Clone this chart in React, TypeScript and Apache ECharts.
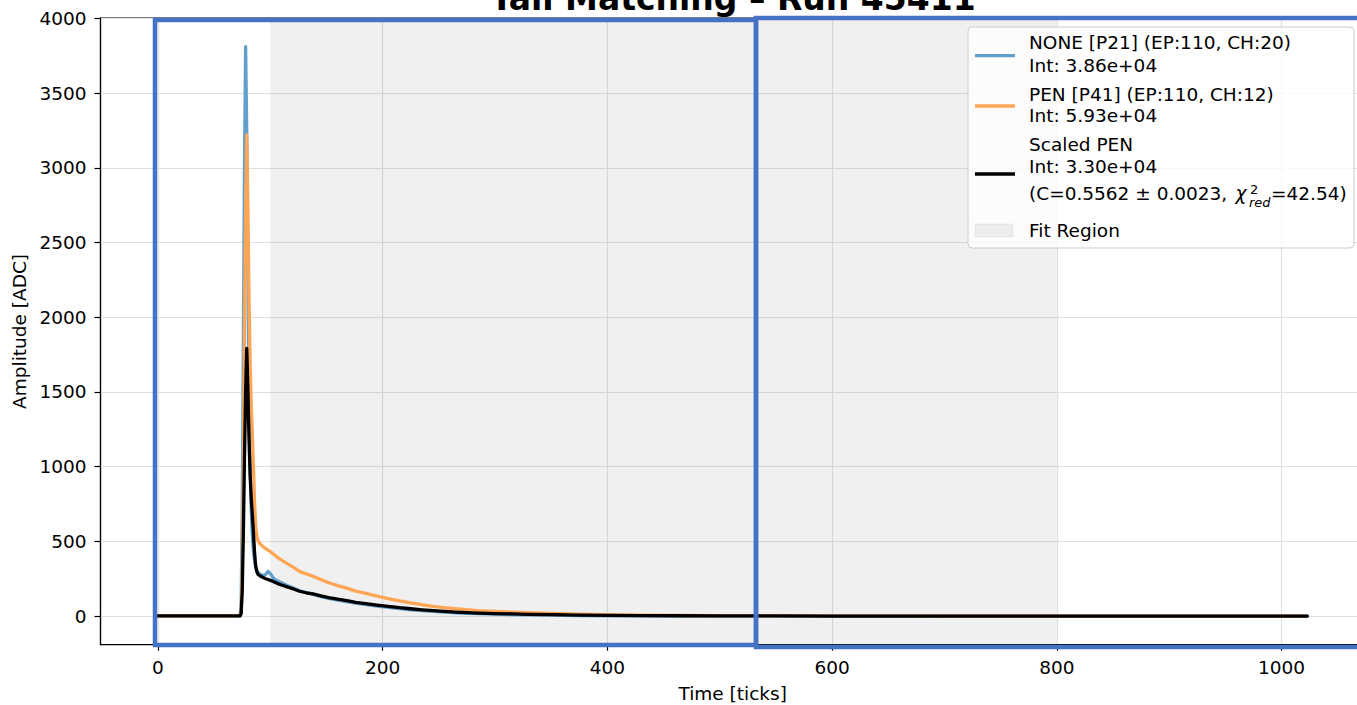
import React, { useEffect, useRef } from "react";
import * as echarts from "echarts";

// ---- data ----
const ticks = [0, 70, 73, 74, 75, 76, 77, 78, 79, 80, 81, 82, 83, 84, 85, 86, 87, 88, 89, 91, 94, 96, 98, 100, 103, 106, 110, 115, 120, 126, 132, 138, 145, 152, 160, 168, 176, 185, 195, 205, 215, 225, 235, 245, 255, 265, 275, 285, 300, 315, 330, 350, 375, 400, 430, 460, 500, 550, 600, 700, 800, 900, 1023];
const noneValues = [2, 2, 3, 60, 700, 1800, 3000, 3810, 3250, 2300, 1550, 1050, 720, 540, 430, 370, 330, 305, 292, 280, 272, 280, 300, 285, 252, 238, 224, 205, 190, 170, 158, 146, 131, 119, 107, 97, 87, 77, 67, 59, 51, 43, 37, 32, 27, 23, 20, 17, 14, 11, 9, 7, 5, 3, 2, 2, 1, 1, 1, 1, 1, 1, 1];
const penValues = [3, 3, 4, 30, 300, 1000, 1900, 2700, 3220, 2750, 2150, 1700, 1420, 1220, 1000, 760, 600, 535, 505, 483, 462, 452, 442, 432, 414, 396, 375, 352, 330, 300, 283, 268, 245, 224, 205, 188, 168, 153, 135, 118, 103, 90, 77, 66, 58, 50, 44, 38, 33, 28, 24, 19, 14, 11, 8, 6, 4, 3, 2, 1, 1, 1, 1];
const scaledValues = [2, 2, 2, 17, 167, 556, 1057, 1502, 1791, 1530, 1196, 946, 790, 679, 556, 423, 334, 298, 281, 269, 257, 251, 246, 240, 230, 220, 209, 196, 184, 167, 157, 149, 136, 125, 114, 105, 93, 85, 75, 66, 57, 50, 43, 37, 32, 28, 24, 21, 18, 16, 13, 11, 8, 6, 4, 3, 2, 2, 1, 1, 1, 1, 1];

const xTickValues = [0, 200, 400, 600, 800, 1000];
const yTickValues = [0, 500, 1000, 1500, 2000, 2500, 3000, 3500, 4000];
const fitRegion = [100, 800];
const xRange = [-51.15, 1074.15];
const yRange = [-190.5, 4000.5];

const seriesNames = ["NONE [P21] (EP:110, CH:20)", "PEN [P41] (EP:110, CH:12)", "Scaled PEN"];
const intLabels = ["Int: 3.86e+04", "Int: 5.93e+04", "Int: 3.30e+04"];
const fitText = "(C=0.5562 ± 0.0023, ";
const chiValue = "=42.54)";
const titleText = "Tail Matching – Run 45411";

const BLUE = "#62a0cb";
const ORANGE = "#ffa556";
const BLACK = "#000000";
const FONT = "DejaVu Sans";
const FS = 18.5;

function pairs(xs: number[], ys: number[]) {
  return xs.map((x, i) => [x, ys[i]]);
}

export default function App() {
  const ref = useRef<HTMLDivElement>(null);
  useEffect(() => {
    if (!ref.current) return;
    const chart = echarts.init(ref.current, null, { renderer: "svg" });
    const txt = (text: string, x: number, y: number, extra: any = {}) => ({
      type: "text",
      x,
      y,
      z: 101,
      style: {
        text,
        fontFamily: FONT,
        fontSize: FS,
        fill: "#000",
        align: "left",
        verticalAlign: "middle",
        ...extra,
      },
    });
    const option: any = {
      animation: false,
      textStyle: { fontFamily: FONT },
      grid: {
        left: 100.5,
        top: 18.2,
        width: 1264.3,
        height: 626.5,
        containLabel: false,
        outerBoundsMode: "none",
        show: true,
        borderColor: "#000",
        borderWidth: 1.2,
        backgroundColor: "transparent",
      },
      xAxis: {
        type: "value",
        min: xRange[0],
        max: xRange[1],
        name: "Time [ticks]",
        nameLocation: "middle",
        nameGap: 39,
        nameTextStyle: { fontFamily: FONT, fontSize: FS, color: "#000" },
        axisLine: { show: true, onZero: false, lineStyle: { color: "#000", width: 1.2 } },
        axisTick: { show: true, length: 6, inside: false, customValues: xTickValues, lineStyle: { color: "#000", width: 1.2 } },
        axisLabel: {
          show: true,
          customValues: xTickValues,
          margin: 13,
          fontFamily: FONT,
          fontSize: FS,
          color: "#000",
          formatter: (v: number) => String(v),
        },
        splitLine: { show: true, lineStyle: { color: "#e0e0e0", width: 1.2 } },
      },
      yAxis: {
        type: "value",
        min: yRange[0],
        max: yRange[1],
        name: "Amplitude [ADC]",
        nameLocation: "middle",
        nameGap: 70,
        nameTextStyle: { fontFamily: FONT, fontSize: FS, color: "#000" },
        axisLine: { show: true, onZero: false, lineStyle: { color: "#000", width: 1.2 } },
        axisTick: { show: true, length: 6, inside: false, customValues: yTickValues, lineStyle: { color: "#000", width: 1.2 } },
        axisLabel: {
          show: true,
          customValues: yTickValues,
          margin: 14,
          fontFamily: FONT,
          fontSize: FS,
          color: "#000",
          formatter: (v: number) => String(v),
        },
        splitLine: { show: true, lineStyle: { color: "#e0e0e0", width: 1.2 } },
      },
      series: [
        {
          name: "Fit Region",
          type: "line",
          data: [],
          z: 1,
          silent: true,
          markArea: {
            silent: true,
            itemStyle: { color: "rgba(128,128,128,0.12)" },
            data: [[{ xAxis: fitRegion[0] }, { xAxis: fitRegion[1] }]],
          },
        },
        {
          name: seriesNames[0],
          type: "line",
          z: 2,
          showSymbol: false,
          symbol: "none",
          data: pairs(ticks, noneValues),
          lineStyle: { color: BLUE, width: 3.3, join: "round", cap: "round" },
        },
        {
          name: seriesNames[1],
          type: "line",
          z: 3,
          showSymbol: false,
          symbol: "none",
          data: pairs(ticks, penValues),
          lineStyle: { color: ORANGE, width: 3.3, join: "round", cap: "round" },
        },
        {
          name: seriesNames[2],
          type: "line",
          z: 4,
          showSymbol: false,
          symbol: "none",
          data: pairs(ticks, scaledValues),
          lineStyle: { color: BLACK, width: 3.3, join: "round", cap: "round" },
        },
      ],
      graphic: [
        {
          type: "text",
          x: 733,
          y: -1.5,
          z: 50,
          style: {
            text: titleText,
            fontFamily: FONT,
            fontSize: 33,
            fontWeight: "bold",
            fill: "#000",
            align: "center",
            verticalAlign: "middle",
          },
        },
        {
          type: "rect",
          z: 100,
          shape: { x: 968, y: 27, width: 386, height: 221, r: 4 },
          style: { fill: "rgba(255,255,255,0.8)", stroke: "#cccccc", lineWidth: 1 },
        },
        { type: "line", z: 101, shape: { x1: 975, y1: 55.7, x2: 1015, y2: 55.7 }, style: { stroke: BLUE, lineWidth: 3.3 } },
        { type: "line", z: 101, shape: { x1: 975, y1: 106, x2: 1015, y2: 106 }, style: { stroke: ORANGE, lineWidth: 3.3 } },
        { type: "line", z: 101, shape: { x1: 975, y1: 174, x2: 1015, y2: 174 }, style: { stroke: BLACK, lineWidth: 3.3 } },
        {
          type: "rect",
          z: 101,
          shape: { x: 975, y: 224, width: 38, height: 13 },
          style: { fill: "rgba(128,128,128,0.12)", stroke: "rgba(128,128,128,0.12)", lineWidth: 1 },
        },
        txt(seriesNames[0], 1029, 42.9),
        txt(intLabels[0], 1029, 65.3),
        txt(seriesNames[1], 1029, 94.6),
        txt(intLabels[1], 1029, 115.9),
        txt(seriesNames[2], 1029, 144.6),
        txt(intLabels[2], 1029, 166.3),
        txt(fitText, 1029, 193.1),
        txt("χ", 1235.5, 193.1, { fontStyle: "italic" }),
        txt("2", 1250, 189, { fontSize: 13 }),
        txt("red", 1249, 202.5, { fontSize: 13, fontStyle: "italic" }),
        txt(chiValue, 1271, 193.1),
        txt("Fit Region", 1029, 230.3),
        {
          type: "rect",
          z: 200,
          shape: { x: 155, y: 20, width: 601, height: 625 },
          style: { fill: "none", stroke: "#4472c4", lineWidth: 4.5 },
        },
        {
          type: "rect",
          z: 200,
          shape: { x: 756, y: 18, width: 612, height: 629 },
          style: { fill: "none", stroke: "#4472c4", lineWidth: 4.5 },
        },
      ],
    };
    chart.setOption(option);
    return () => chart.dispose();
  }, []);
  return (
    <div
      ref={ref}
      style={{ position: "fixed", left: 0, top: 0, width: 1357, height: 705, background: "#fff" }}
    />
  );
}
